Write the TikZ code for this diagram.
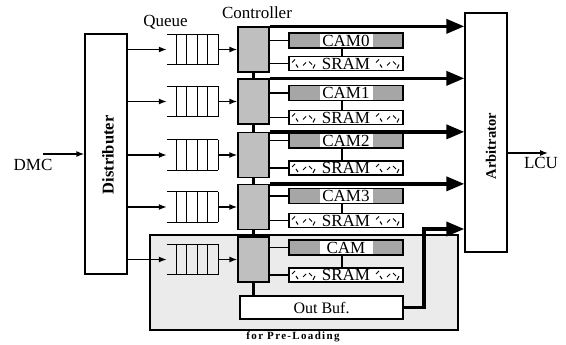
\documentclass[tikz,border=0pt]{standalone}
\usepackage{fontspec}
\setmainfont{Liberation Serif}
\usetikzlibrary{arrows.meta}

\begin{document}
\begin{tikzpicture}[x=1pt, y=-1pt, font=\fontsize{17}{20}\selectfont,
    thin/.style={line width=1.3pt},
    arr/.style={thin, -{Latex[length=8pt,width=6pt]}},
    bigarr/.style={line width=3.5pt, -{Triangle[length=18pt,width=14pt]}},
    bus/.style={line width=3.5pt},
    block/.style={draw, thin, fill=white, inner sep=0pt},
    queue/.style={minimum width=51pt, minimum height=30pt, inner sep=0pt},
    ctrl/.style={block, fill=gray!50, minimum width=31pt, minimum height=45pt},
    cam/.style={block, minimum width=114pt, minimum height=15pt, path picture={
        \fill[gray!70] (path picture bounding box.south west) rectangle ++(31pt,15pt);
        \fill[gray!70] (path picture bounding box.north east) rectangle ++(-30pt,-15pt);}},
    sram/.style={block, minimum width=114pt, minimum height=14pt, path picture={
        \foreach \dx/\dy/\ex/\ey in {3/8/3/3, 9/3/-2/3, 14/5/3/3, 20/9/3/-3, 24/2/2/4}{
          \draw[line width=1pt] ([shift={(\dx pt,\dy pt)}]path picture bounding box.south west) -- ++(\ex pt,\ey pt);
          \draw[line width=1pt] ([shift={(\dx pt-30pt,\dy pt)}]path picture bounding box.south east) -- ++(\ex pt,\ey pt);
        }}},
    lbl/.style={font=\fontsize{16.5}{19}\selectfont\bfseries, rotate=90}]
  \useasboundingbox (0,0) rectangle (566,345);

  % pre-loading area
  \node[block, fill=gray!16, minimum width=308pt, minimum height=95pt] (preload) at (304,282.5) {};
  \node[font=\fontsize{11}{13}\selectfont\bfseries\addfontfeature{LetterSpace=12}] (preloadlbl) at (293,337) {for Pre-Loading};

  \node[block, minimum width=42pt, minimum height=240pt] (dist) at (106,154) {};
  \node[lbl] (distlbl) at (108,155) {Distributer};
  \node[block, minimum width=42pt, minimum height=239pt] (arb) at (486,132.5) {};
  \node[lbl, font=\fontsize{14.5}{17}\selectfont\bfseries] (arblbl) at (491,146) {Arbitrator};

  \node[anchor=base] (queuelbl) at (165.5,26.5) {Queue};
  \node[anchor=base] (ctllbl) at (257,18.5) {Controller};

  \foreach \i/\r/\c/\s/\name in {1/49.5/40.5/63.5/CAM0, 2/101.5/93/117.5/CAM1, 3/155/140.5/168/CAM2,
      4/207/196/220.5/CAM3, 5/259.5/247.5/275/CAM}{
    \node[queue] (q\i) at (192.5,\r) {};
    \draw[thin] (q\i.north west) -- (q\i.north east) (q\i.south west) -- (q\i.south east);
    \foreach \k in {0,...,4}
      \draw[thin] ([xshift=-\k*10.5pt]q\i.north east) -- ([xshift=-\k*10.5pt]q\i.south east);
    \node[ctrl] (ctl\i) at (253.5,\r) {};
    \node[cam] (cam\i) at (346,\c) {\name};
    \node[sram] (sram\i) at (346,\s) {SRAM};
    \draw[arr] (dist.east |- q\i) -- (q\i.west);
    \draw[arr] (q\i.east) -- (ctl\i.west);
    \draw[thin] (ctl\i.east |- cam\i) -- (cam\i.west);
    \draw[thin] (ctl\i.east |- sram\i) -- (sram\i.west);
    \draw[thin] ([xshift=-4pt]cam\i.south) -- ([xshift=-4pt]cam\i.south |- sram\i.north);
  }
  \foreach \i in {1,...,4}
    \draw[bigarr] (ctl\i.north east) -- (ctl\i.north east -| arb.west);
  \foreach \i/\j in {1/2,2/3,3/4,4/5}
    \draw[bus] (ctl\i.south) -- (ctl\j.north);

  \node[block, minimum width=163pt, minimum height=23pt, font=\fontsize{16}{19}\selectfont] (outbuf) at (321.5,307.5) {Out Buf.};
  \draw[bus] (ctl5.south) -- (ctl5.south |- outbuf.north);
  \coordinate (turn) at (424,229);
  \draw[bigarr] (outbuf.east) -| (turn) -- (turn -| arb.west);

  \node (dmc) at (33,165) {DMC};
  \coordinate (dmcin) at (43,154);
  \draw[arr] (dmcin) -- (dmcin -| dist.west);
  \node (lcu) at (541,163) {LCU};
  \coordinate (lcuout) at (548,153);
  \draw[arr] (arb.east |- lcuout) -- (lcuout);
\end{tikzpicture}
\end{document}
